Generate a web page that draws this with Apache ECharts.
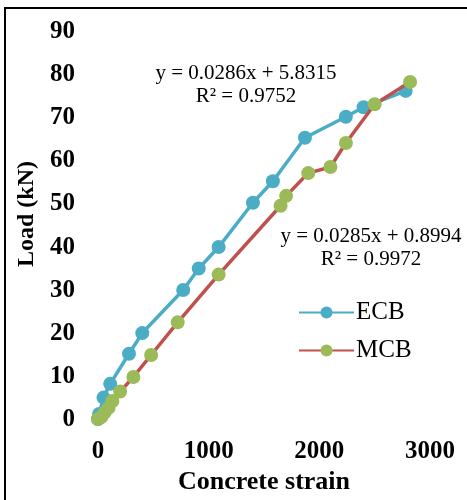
<!DOCTYPE html>
<html>
<head>
<meta charset="utf-8">
<script src="https://cdn.jsdelivr.net/npm/echarts@6/dist/echarts.min.js"></script>
<style>
	html, body { margin: 0; padding: 0; background: #fff; }
	#chart { width: 467px; height: 500px; }
</style>
</head>
<body>
<div id="chart"></div>
<script>
// Concrete strain vs load
const ecbStrain = [0, 10, 50, 110, 280, 400, 770, 910, 1090, 1400, 1580, 1870, 2240, 2400, 2780]
const ecbLoad = [0, 1.2, 5, 8.2, 15.2, 20, 30, 35, 40, 50.3, 55.3, 65.4, 70.3, 72.5, 76.3]

const mcbStrain = [0, 30, 60, 95, 130, 200, 320, 480, 720, 1090, 1650, 1700, 1900, 2100, 2240, 2500, 2820]
const mcbLoad = [0, 0.5, 1.5, 2.6, 4.2, 6.4, 9.8, 14.9, 22.5, 33.6, 49.6, 51.9, 57.2, 58.6, 64.2, 73.2, 78.4]

const xTicks = [0, 1000, 2000, 3000]
const yTicks = [0, 10, 20, 30, 40, 50, 60, 70, 80, 90]

const ecbEquation = ['y = 0.0286x + 5.8315', 'R² = 0.9752']
const mcbEquation = ['y = 0.0285x + 0.8994', 'R² = 0.9972']

const pair = (xs, ys) => xs.map((x, i) => [x, ys[i]])

const chart = echarts.init(document.getElementById('chart'))

const serif = '"Liberation Serif", "Times New Roman", serif'

const option = {
	animation: false,
	backgroundColor: '#fff',
	grid: {
		left: 98,
		right: 37,
		top: 32,
		bottom: 79
	},
	xAxis: {
		type: 'value',
		min: xTicks[0],
		max: xTicks[xTicks.length - 1],
		interval: 1000,
		name: 'Concrete strain',
		nameLocation: 'middle',
		nameGap: 46,
		nameTextStyle: { fontFamily: serif, fontWeight: 'bold', fontSize: 26, color: '#000' },
		axisLine: { show: false },
		axisTick: { show: false },
		splitLine: { show: false },
		axisLabel: {
			fontFamily: serif, fontWeight: 'bold', fontSize: 25, color: '#000', margin: 20,
			formatter: v => String(v)
		}
	},
	yAxis: {
		type: 'value',
		min: yTicks[0],
		max: yTicks[yTicks.length - 1],
		interval: 10,
		axisLine: { show: false },
		axisTick: { show: false },
		splitLine: { show: false },
		axisLabel: { fontFamily: serif, fontWeight: 'bold', fontSize: 25, color: '#000', margin: 23 }
	},
	legend: {
		left: 293,
		top: 295,
		orient: 'vertical',
		itemGap: 13,
		itemWidth: 55,
		itemHeight: 15,
		textStyle: { fontFamily: serif, fontSize: 25, color: '#000', padding: [0, 0, 0, -3] },
		data: ['ECB', 'MCB']
	},
	series: [
		{
			name: 'ECB',
			type: 'line',
			data: pair(ecbStrain, ecbLoad),
			symbol: 'circle',
			symbolSize: 14,
			lineStyle: { color: '#4BACC6', width: 3.5 },
			itemStyle: { color: '#4BACC6' },
			z: 2
		},
		{
			name: 'MCB',
			type: 'line',
			data: pair(mcbStrain, mcbLoad),
			symbol: 'circle',
			symbolSize: 14,
			lineStyle: { color: '#C0504D', width: 3.5 },
			itemStyle: { color: '#9BBB59' },
			z: 3
		}
	],
	graphic: [
		{
			type: 'rect',
			shape: { x: 5, y: 8, width: 600, height: 600 },
			style: { fill: 'none', stroke: '#000', lineWidth: 2 },
			silent: true
		},
		{
			type: 'text',
			x: 27, y: 214,
			rotation: Math.PI / 2,
			style: { text: 'Load (kN)', font: 'bold 24px ' + serif, fill: '#000', align: 'center', verticalAlign: 'middle' }
		},
		{
			type: 'text',
			x: 246, y: 85,
			style: { text: ecbEquation.join('\n'), font: '21px ' + serif, fill: '#000', align: 'center', verticalAlign: 'middle', lineHeight: 23 }
		},
		{
			type: 'text',
			x: 371, y: 248,
			style: { text: mcbEquation.join('\n'), font: '21px ' + serif, fill: '#000', align: 'center', verticalAlign: 'middle', lineHeight: 23 }
		}
	]
}

chart.setOption(option)
</script>
</body>
</html>
